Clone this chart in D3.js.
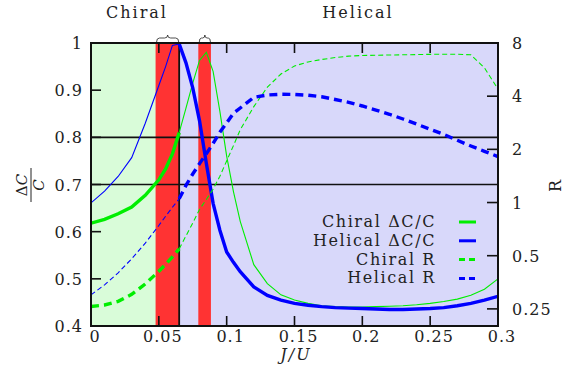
<!DOCTYPE html>
<html>
<head>
<meta charset="utf-8">
<script src="https://cdn.jsdelivr.net/npm/d3@7"></script>
<style>
  body { margin: 0; background: #fff; }
  svg text { font-family: "DejaVu Serif", serif; fill: #222; }
</style>
</head>
<body>
<svg id="chart" width="578" height="370"></svg>
<script>
// J/U grid shared by all four series
const jValues = [0, 0.01, 0.02, 0.03, 0.04, 0.05, 0.055, 0.06, 0.065,
  0.07, 0.075, 0.08, 0.085, 0.09, 0.095, 0.1, 0.105, 0.11,
  0.12, 0.13, 0.14, 0.15, 0.16, 0.17, 0.18, 0.19, 0.2, 0.21, 0.22, 0.23,
  0.24, 0.25, 0.26, 0.27, 0.28, 0.29, 0.3];

const chiralDC = [0.618, 0.626, 0.638, 0.652, 0.677, 0.71, 0.733, 0.765, 0.81,
  0.862, 0.915, 0.963, 0.98, 0.94, 0.855, 0.76, 0.685, 0.622,
  0.53, 0.49, 0.466, 0.455, 0.448, 0.443, 0.441, 0.44, 0.44, 0.441, 0.442, 0.443,
  0.445, 0.448, 0.452, 0.457, 0.465, 0.478, 0.5];

const helicalDC = [0.661, 0.686, 0.717, 0.757, 0.83, 0.91, 0.95, 0.995, 0.998,
  0.958, 0.905, 0.835, 0.745, 0.66, 0.603, 0.557, 0.535, 0.515,
  0.483, 0.465, 0.455, 0.448, 0.444, 0.441, 0.439, 0.438, 0.437, 0.436, 0.435, 0.435,
  0.436, 0.437, 0.439, 0.443, 0.448, 0.455, 0.463];

const chiralR = [0.258, 0.263, 0.276, 0.302, 0.346, 0.408, 0.447, 0.493, 0.547,
  0.647, 0.766, 0.914, 1.04, 1.19, 1.41, 1.72, 2.1, 2.58,
  3.49, 4.5, 5.34, 5.93, 6.25, 6.45, 6.62, 6.74, 6.8, 6.82, 6.84, 6.86,
  6.88, 6.9, 6.91, 6.91, 6.86, 5.79, 4.39];

const helicalR = [0.3, 0.342, 0.4, 0.48, 0.589, 0.741, 0.837, 0.94, 1.05,
  1.25, 1.45, 1.66, 1.89, 2.16, 2.5, 2.82, 3.2, 3.43,
  3.94, 4.06, 4.1, 4.09, 4.05, 3.97, 3.83, 3.69, 3.52, 3.34, 3.16, 2.97,
  2.78, 2.6, 2.43, 2.25, 2.09, 1.95, 1.82];

const transition = 0.065;                 // chiral -> helical
const redBands = [[0.0476, 0.065], [0.0791, 0.0884]];
const xTicks = [0, 0.05, 0.1, 0.15, 0.2, 0.25, 0.3];
const yTicks = [0.4, 0.5, 0.6, 0.7, 0.8, 0.9, 1];
const rTicks = [0.25, 0.5, 1, 2, 4, 8];
const refLines = [0.8, 0.7];

const svg = d3.select('#chart');
const pl = 91, pr = 498, pt = 43, pb = 326;

const x = d3.scaleLinear().domain([0, 0.3]).range([pl, pr]);
const y = d3.scaleLinear().domain([0.4, 1]).range([pb, pt]);
const yR = d3.scaleLog().domain([0.2, 8]).range([pb, pt]);

svg.append('clipPath').attr('id', 'plot')
  .append('rect').attr('x', pl).attr('y', pt)
  .attr('width', pr - pl).attr('height', pb - pt);

// phase backgrounds
svg.append('rect').attr('x', x(0)).attr('y', pt)
  .attr('width', x(transition) - x(0)).attr('height', pb - pt)
  .attr('fill', '#d9fcd9');
svg.append('rect').attr('x', x(transition)).attr('y', pt)
  .attr('width', x(0.3) - x(transition)).attr('height', pb - pt)
  .attr('fill', '#d8d8fa');

svg.selectAll('.band')
  .data(redBands)
  .enter()
  .append('rect')
  .attr('x', d => x(d[0]))
  .attr('y', pt)
  .attr('width', d => x(d[1]) - x(d[0]))
  .attr('height', pb - pt)
  .attr('fill', '#ff3333');

// braces over the red bands
svg.selectAll('.brace')
  .data(redBands)
  .enter()
  .append('path')
  .attr('d', d => {
    const a = x(d[0]) + 1, b = x(d[1]) - 0.5, m = (a + b) / 2;
    const q = Math.min(3, (b - a) / 5);
    const yb = pt - 1, yt = pt - 5;
    return `M${a},${yb} Q${a},${yt} ${a + q},${yt} L${m - q},${yt} Q${m},${yt} ${m},${yt - 3}`
      + ` Q${m},${yt} ${m + q},${yt} L${b - q},${yt} Q${b},${yt} ${b},${yb}`;
  })
  .attr('fill', 'none')
  .attr('stroke', '#222')
  .attr('stroke-width', 0.8);

// reference lines
svg.selectAll('.ref')
  .data(refLines)
  .enter()
  .append('line')
  .attr('x1', pl).attr('x2', pr)
  .attr('y1', d => y(d)).attr('y2', d => y(d))
  .attr('stroke', '#111').attr('stroke-width', 1.6);
svg.append('line')
  .attr('x1', x(transition)).attr('x2', x(transition))
  .attr('y1', pt).attr('y2', pb)
  .attr('stroke', '#111').attr('stroke-width', 1.8);

// curves: thick in own phase, thin otherwise
const pts = (vals, scale) => jValues.map((j, i) => [x(j), scale(vals[i])]);
const line = d3.line();
const series = [
  { vals: chiralDC, scale: y, color: '#00ee00', dash: null, chiral: true },
  { vals: helicalDC, scale: y, color: '#0000ff', dash: null, chiral: false },
  { vals: chiralR, scale: yR, color: '#00ee00', dash: true, chiral: true },
  { vals: helicalR, scale: yR, color: '#0000ff', dash: true, chiral: false }
];
const g = svg.append('g').attr('clip-path', 'url(#plot)');
series.forEach(s => {
  const p = pts(s.vals, s.scale);
  const leftPart = p.filter((d, i) => jValues[i] <= transition);
  const rightPart = p.filter((d, i) => jValues[i] >= transition);
  const thick = s.chiral ? leftPart : rightPart;
  const thin = s.chiral ? rightPart : leftPart;
  g.append('path').attr('d', line(thin))
    .attr('fill', 'none').attr('stroke', s.color).attr('stroke-width', 1.1)
    .attr('stroke-dasharray', s.dash ? '5,3' : null);
  g.append('path').attr('d', line(thick))
    .attr('fill', 'none').attr('stroke', s.color).attr('stroke-width', 3.4)
    .attr('stroke-dasharray', s.dash ? '8,5' : null);
});

// frame
svg.append('rect').attr('x', pl).attr('y', pt)
  .attr('width', pr - pl).attr('height', pb - pt)
  .attr('fill', 'none').attr('stroke', '#111').attr('stroke-width', 2);

// ticks (inward)
const tk = svg.append('g').attr('stroke', '#111').attr('stroke-width', 1.6);
xTicks.slice(1, -1).forEach(t => {
  tk.append('line').attr('x1', x(t)).attr('x2', x(t)).attr('y1', pb).attr('y2', pb - 10);
  tk.append('line').attr('x1', x(t)).attr('x2', x(t)).attr('y1', pt).attr('y2', pt + 10);
});
yTicks.slice(1, -1).forEach(t => {
  tk.append('line').attr('x1', pl).attr('x2', pl + 10).attr('y1', y(t)).attr('y2', y(t));
});
rTicks.forEach(t => {
  tk.append('line').attr('x1', pr).attr('x2', pr - 11).attr('y1', yR(t)).attr('y2', yR(t));
});

const lab = svg.append('g').style('font-size', '16px').style('letter-spacing', '1px');
xTicks.forEach(t => {
  lab.append('text').attr('x', x(t) + 4).attr('y', 342)
    .attr('text-anchor', 'middle').text(d3.format('')(t));
});
yTicks.forEach(t => {
  lab.append('text').attr('x', 83).attr('y', y(t) + 6)
    .attr('text-anchor', 'end').text(d3.format('')(t));
});
rTicks.forEach(t => {
  lab.append('text').attr('x', 512).attr('y', yR(t) + 6)
    .attr('text-anchor', 'start').text(d3.format('')(t));
});

// titles and axis labels
const big = svg.append('g').style('font-size', '16px').style('letter-spacing', '2px');
big.append('text').attr('x', 137).attr('y', 18).attr('text-anchor', 'middle').text('Chiral');
big.append('text').attr('x', 358).attr('y', 18).attr('text-anchor', 'middle').text('Helical');
big.append('text').attr('x', 296).attr('y', 360).attr('text-anchor', 'middle')
  .style('font-style', 'italic').text('J/U');
big.append('text').attr('transform', 'translate(561,185) rotate(-90)')
  .attr('text-anchor', 'middle').text('R');

const frac = svg.append('g').attr('transform', 'translate(31,185) rotate(-90)')
  .style('font-size', '15px');
frac.append('text').attr('x', 0).attr('y', -4).attr('text-anchor', 'middle')
  .html('Δ<tspan font-style="italic">C</tspan>');
frac.append('line').attr('x1', -17).attr('x2', 17).attr('y1', 0).attr('y2', 0)
  .attr('stroke', '#222').attr('stroke-width', 1);
frac.append('text').attr('x', 0).attr('y', 13).attr('text-anchor', 'middle')
  .style('font-style', 'italic').text('C');

// legend
const legend = [
  { label: 'Chiral ΔC/C', color: '#00ee00', dash: null },
  { label: 'Helical ΔC/C', color: '#0000ff', dash: null },
  { label: 'Chiral R', color: '#00ee00', dash: '6,4' },
  { label: 'Helical R', color: '#0000ff', dash: '6,4' }
];
const lg = svg.append('g').style('font-size', '16px').style('letter-spacing', '1.6px');
legend.forEach((d, i) => {
  const yy = 222 + i * 18.8;
  lg.append('text').attr('x', 436).attr('y', yy + 5).attr('text-anchor', 'end').text(d.label);
  lg.append('line').attr('x1', 459).attr('x2', 476).attr('y1', yy).attr('y2', yy)
    .attr('stroke', d.color).attr('stroke-width', 3).attr('stroke-dasharray', d.dash);
});
</script>
</body>
</html>
